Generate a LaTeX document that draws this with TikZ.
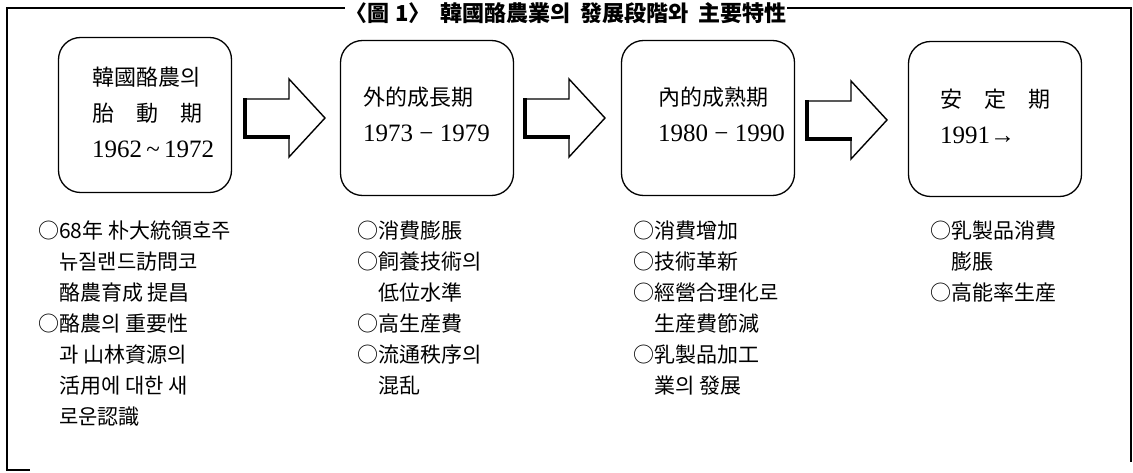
\documentclass[tikz,border=0pt]{standalone}
\usepackage{fontspec}
\setmainfont{Noto Sans CJK KR}
\newfontfamily\numf{Liberation Serif}
\newcommand{\yrs}[1]{{\numf\fontsize{25}{36}\selectfont #1}}
\begin{document}
\begin{tikzpicture}[x=1pt,y=-1pt,
  frameline/.style={line width=1.3pt},
  stagebox/.style={draw,line width=1.3pt,rounded corners=22pt,minimum width=173pt,minimum height=155pt,inner sep=0pt},
  boxtext/.style={anchor=north west,align=left,inner sep=0pt,font=\fontsize{22}{36}\selectfont},
  listtext/.style={anchor=north west,align=left,inner sep=0pt,font=\fontsize{21}{31}\selectfont},
  blkarrow/.pic={
    \draw[line width=1.4pt,line join=miter] (0,-19) -- (44,-19) -- (44,-39) -- (80,0) -- (44,39) -- (44,20) -- (0,20) -- cycle;
    \draw[line width=4.5pt,line cap=rect] (0,-18) -- (0,19) -- (43,19);
  }]
\useasboundingbox (0,0) rectangle (1133,473);
% frame
\node[font=\bfseries\fontsize{22}{22}\selectfont,inner sep=0pt] (title) at (566,13) {〈圖\hspace{6pt}1〉\hspace{10pt}韓國酪農業의\hspace{10pt}發展段階와\hspace{10pt}主要特性};
\coordinate (tl) at (7,8);
\coordinate (tr) at (1131,8);
\coordinate (bl) at (7,470);
\coordinate (br) at (1131,462);
\coordinate (bs) at (30,470);
\draw[frameline] (title.west |- tl) -- (tl) -- (bl) -- (bs);
\draw[frameline] (title.east |- tr) -- (tr) -- (br);
% boxes
\node[stagebox] (b1) at (145,115) {};
\node[stagebox] (b2) at (427,118) {};
\node[stagebox] (b3) at (708,118) {};
\node[stagebox] (b4) at (995,119) {};
\node[boxtext] (t1) at (92,67) {韓國酪農의\\胎\quad 動\quad 期\\\yrs{1962\,\textasciitilde\,1972}};
\node[boxtext] (t2) at (363,87) {外的成長期\\\yrs{1973 − 1979}};
\node[boxtext] (t3) at (658,87) {內的成熟期\\\yrs{1980 − 1990}};
\node[boxtext] (t4) at (940,89) {安\quad 定\quad 期\\\yrs{1991\textbf{→}}};
% arrows
\pic at (245,118) {blkarrow};
\pic at (525,118) {blkarrow};
\pic at (807,120) {blkarrow};
% lists
\node[listtext] (l1) at (38,221) {○68年 朴大統領호주\\\phantom{○}뉴질랜드訪問코\\\phantom{○}酪農育成 提昌\\○酪農의 重要性\\\phantom{○}과 山林資源의\\\phantom{○}活用에 대한 새\\\phantom{○}로운認識};
\node[listtext] (l2) at (357,221) {○消費膨脹\\○飼養技術의\\\phantom{○}低位水準\\○高生産費\\○流通秩序의\\\phantom{○}混乱};
\node[listtext] (l3) at (633,221) {○消費增加\\○技術革新\\○經營合理化로\\\phantom{○}生産費節減\\○乳製品加工\\\phantom{○}業의 發展};
\node[listtext] (l4) at (930,221) {○乳製品消費\\\phantom{○}膨脹\\○高能率生産};
\end{tikzpicture}
\end{document}
